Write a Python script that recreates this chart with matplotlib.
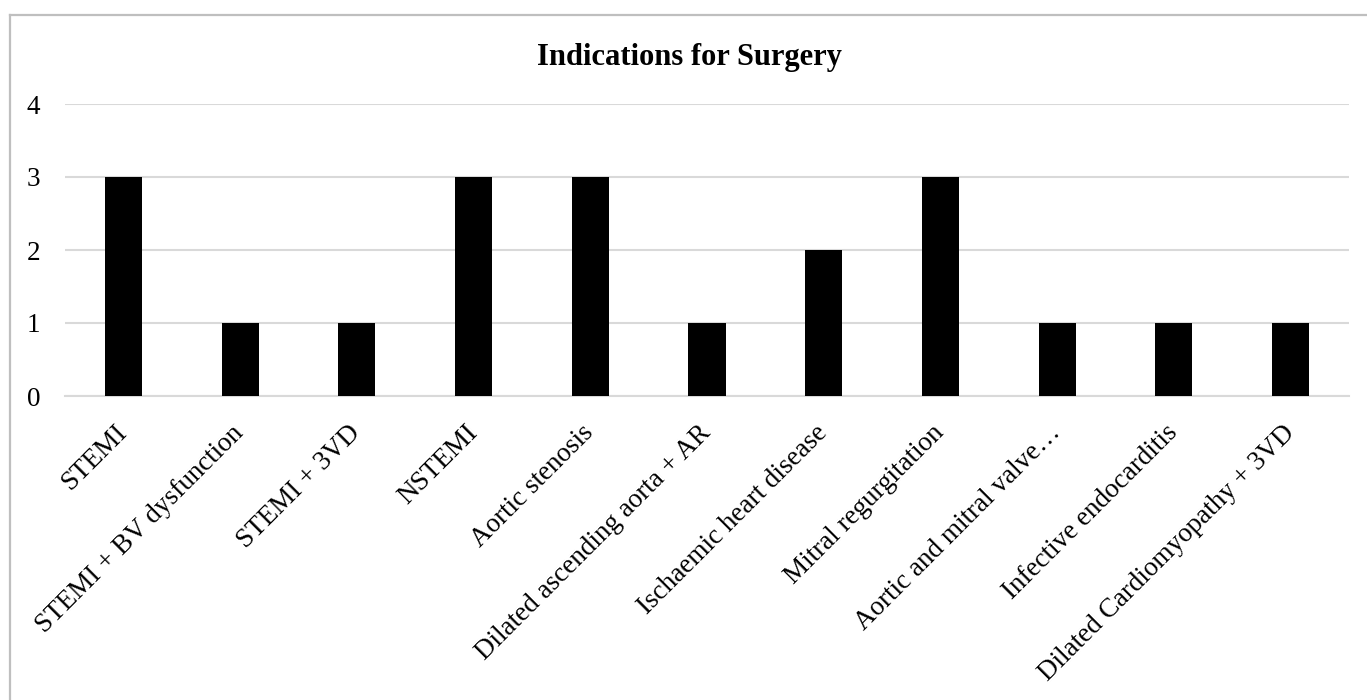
import numpy as np
import matplotlib.pyplot as plt
from matplotlib.lines import Line2D

plt.rcParams['font.family'] = ['Liberation Serif', 'DejaVu Serif']

indications = ['STEMI', 'STEMI + BV dysfunction', 'STEMI + 3VD', 'NSTEMI',
               'Aortic stenosis', 'Dilated ascending aorta + AR',
               'Ischaemic heart disease', 'Mitral regurgitation',
               'Aortic and mitral valve\u2026', 'Infective endocarditis',
               'Dilated Cardiomyopathy + 3VD']
counts = [3, 1, 1, 3, 3, 1, 2, 3, 1, 1, 1]

W, H = 1367, 700
fig = plt.figure(figsize=(W / 100, H / 100), dpi=100)
ax = fig.add_axes([65 / W, 1 - 396 / H, 1284 / W, 292 / H])

x = np.arange(len(indications))
ax.bar(x, counts, width=0.317, color='black', zorder=3)

ax.set_xlim(-0.5, len(indications) - 0.5)
ax.set_ylim(0, 4)
ax.set_yticks([0, 1, 2, 3, 4])
ax.set_xticks(x)
ax.set_xticklabels(indications, rotation=45, ha='right', va='center',
                   rotation_mode='anchor', fontsize=19.5)
ax.tick_params(axis='y', labelsize=19.5, length=0, pad=18)
ax.tick_params(axis='x', length=0, pad=24)
ax.grid(axis='y', color='#d9d9d9', linewidth=1.5, zorder=0)
for side in ['top', 'right', 'left']:
    ax.spines[side].set_visible(False)
ax.spines['bottom'].set_color('#d9d9d9')
ax.spines['bottom'].set_linewidth(1.5)

fig.text(689 / W, 1 - 58 / H, 'Indications for Surgery', ha='center', va='center',
         fontsize=22, fontweight='bold')

# chart frame: left and top edges
fx, fy = 9.5 / W, 1 - 14.5 / H
fig.add_artist(Line2D([fx, fx], [0, fy], transform=fig.transFigure,
                      color='#bfbfbf', linewidth=1.6))
fig.add_artist(Line2D([fx, 1], [fy, fy], transform=fig.transFigure,
                      color='#bfbfbf', linewidth=1.6))

fig.savefig('out.png', dpi=100)
